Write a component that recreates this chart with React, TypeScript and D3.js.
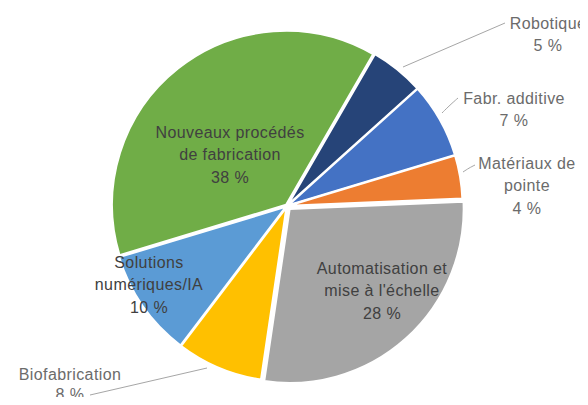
import { useEffect, useRef } from 'react';
import * as d3 from 'd3';

// slices, clockwise from the first one (Excel-like start at 30deg)
const CATEGORIES = [
  'Robotique',
  'Fabr. additive',
  'Matériaux de pointe',
  'Automatisation et mise à l\'échelle',
  'Biofabrication',
  'Solutions numériques/IA',
  'Nouveaux procédés de fabrication',
];
const SHARES = [5, 7, 4, 28, 8, 10, 38];
const COLORS = ['#264478', '#4472C4', '#ED7D31', '#A5A5A5', '#FFC000', '#5B9BD5', '#70AD47'];
// how each label is broken into lines
const LABEL_LINES = [
  ['Robotique'],
  ['Fabr. additive'],
  ['Matériaux de', 'pointe'],
  ['Automatisation et', 'mise à l\'échelle'],
  ['Biofabrication'],
  ['Solutions', 'numériques/IA'],
  ['Nouveaux procédés', 'de fabrication'],
];

export default function App() {
  const svgRef = useRef<SVGSVGElement>(null);

  useEffect(() => {
    if (!svgRef.current) return;
    const width = 588;
    const height = 405;
    const cx = 287;
    const cy = 206;
    const radius = 174;

    const svg = d3.select(svgRef.current);
    svg.selectAll('*').remove();
    svg.attr('width', width).attr('height', height).attr('viewBox', `0 0 ${width} ${height}`);

    svg.append('rect').attr('width', width).attr('height', height).attr('fill', '#fff');

    const data = CATEGORIES.map((c, i) => ({ name: c, value: SHARES[i], color: COLORS[i], lines: LABEL_LINES[i] }));

    const pie = d3.pie<any>()
      .sort(null)
      .value((d) => d.value)
      .startAngle((30 * Math.PI) / 180)
      .endAngle((390 * Math.PI) / 180);
    const arcs = pie(data);
    const arc = d3.arc<any>().innerRadius(0).outerRadius(radius);

    const g = svg.append('g').attr('transform', `translate(${cx},${cy})`);

    // label placement (offsets from the pie centre): [x, first line y, line step, inside?]
    const labelPos: [number, number, number, boolean][] = [
      [261, -183, 22.5, false],
      [227, -108, 22.5, false],
      [240, -43, 22.5, false],
      [95, 62, 22.5, true],
      [-217, 168, 20, false],
      [-138, 56, 22.5, true],
      [-57, -74, 22.5, true],
    ];

    // leader lines for outside labels (offsets from the pie centre)
    const leaders: Record<number, [number, number][]> = {
      0: [[116, -139], [218, -183]],
      1: [[155, -93], [163, -101], [171, -108]],
      2: [[176, -34], [182, -38], [188, -41]],
      4: [[-80, 162], [-197, 189]],
    };

    // === slices ===
    g.selectAll('path.slice')
      .data(arcs)
      .enter()
      .append('path')
      .attr('class', 'slice')
      .attr('d', arc as any)
      .attr('transform', (d: any, i) => {
        const off = i === 3 ? 4 : 1.5;
        const mid = (d.startAngle + d.endAngle) / 2;
        return `translate(${Math.sin(mid) * off},${-Math.cos(mid) * off})`;
      })
      .attr('fill', (d: any) => d.data.color)
      .attr('stroke', '#fff')
      .attr('stroke-width', 2);

    // === leader lines ===
    Object.values(leaders).forEach((pts) => {
      g.append('path')
        .datum(pts)
        .attr('d', d3.line().curve(d3.curveBasis) as any)
        .attr('fill', 'none')
        .attr('stroke', '#A6A6A6')
        .attr('stroke-width', 1);
    });

    // === labels ===
    arcs.forEach((a: any, i) => {
      const [lx, ly, step, inside] = labelPos[i];
      const lines = [...a.data.lines, `${a.data.value} %`];
      const t = g.append('text')
        .attr('text-anchor', 'middle')
        .attr('font-family', '"Liberation Sans", Arial, sans-serif')
        .attr('font-size', '16px')
        .attr('letter-spacing', '0.4px')
        .attr('fill', inside ? '#404040' : '#6B6B6B');
      lines.forEach((ln, j) => {
        t.append('tspan')
          .attr('x', lx)
          .attr('y', ly + j * step)
          .attr('dominant-baseline', 'central')
          .text(ln);
      });
    });
  }, []);

  return (
    <div style={{ margin: -8 }}>
      <svg ref={svgRef} style={{ display: 'block' }} />
    </div>
  );
}
